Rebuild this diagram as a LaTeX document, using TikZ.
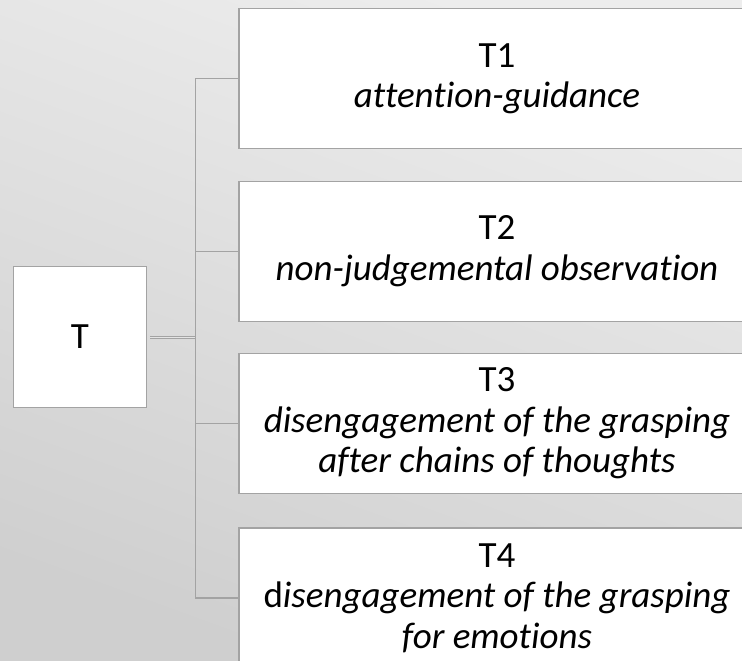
\documentclass[tikz,border=0pt]{standalone}
\usepackage{fontspec}
\setmainfont{Carlito}[Ligatures=NoCommon]
\usepackage{tikz}

\definecolor{linegray}{HTML}{A3A3A3}
\definecolor{bgtop}{HTML}{EDEDED}
\definecolor{bgbottom}{HTML}{CFCFCF}

\tikzset{
	box/.style={draw=linegray, line width=1.5pt, fill=white, inner sep=0pt, align=center, font=\fontsize{37}{40.5}\selectfont},
	leaf/.style={box, minimum width=516pt, minimum height=140pt},
	link/.style={draw=linegray, line width=1.5pt},
}

\begin{document}
\begin{tikzpicture}[x=1pt, y=-1pt]
		\clip (0,0) rectangle (742,661);
		\shade[top color=bgtop, bottom color=bgbottom, shading angle=-20] (0,0) rectangle (742,661);

		\node[box, minimum width=133pt, minimum height=141pt] (T) at (80,337) {T};
		\node[leaf] (T1) at (497,78.6) {T1\\\textit{attention-guidance}};
		\node[leaf] (T2) at (497,251.3) {T2\\\textit{non-judgemental observation}};
		\node[leaf] (T3) at (497,423.3) {T3\\\textit{disengagement of the grasping}\\\textit{after chains of thoughts}};
		\node[leaf] (T4) at (497,597.8) {T4\\d\textit{isengagement of the grasping}\\\textit{for emotions}};

		\coordinate (J) at (195.5,337);

		\draw[link, line width=1pt, double=bgtop!70!bgbottom, double distance=1pt] ([xshift=3pt]T.east) -- (J);
		\draw[link] (J) |- (T1.west);
		\draw[link] (J) |- (T2.west);
		\draw[link] (J) |- (T3.west);
		\draw[link] (J) |- (T4.west);
	\end{tikzpicture}
\end{document}
